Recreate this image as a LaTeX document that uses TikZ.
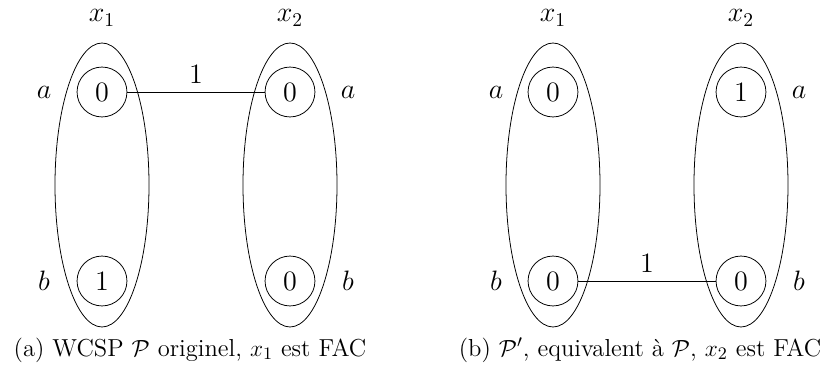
\documentclass[tikz,border=0pt]{standalone}
\usepackage{amsmath}

\begin{document}
\begin{tikzpicture}[
    x=0.513pt,
    y=0.513pt,
    every node/.style={font=\Large},
    val/.style={draw, circle, minimum size=25.6pt, inner sep=0pt},
    capt/.style={font=\fontsize{12.6}{15}\selectfont}
]

    \useasboundingbox (0,0) rectangle (827,370);

    % (a) WCSP original
    \draw (102,185) ellipse (47 and 142);
    \draw (290,185) ellipse (47 and 142);

    \node[inner sep=1pt] (ax1) at (102,352) {\(x_1\)};
    \node[inner sep=1pt] (ax2) at (290,352) {\(x_2\)};

    \node[val] (aa1) at (102,278) {0};
    \node[val] (ab1) at (102,89) {1};
    \node[val] (aa2) at (290,278) {0};
    \node[val] (ab2) at (290,89) {0};

    \node (la1) at (44,278) {\(a\)};
    \node (lb1) at (44,89) {\(b\)};
    \node (la2) at (348,278) {\(a\)};
    \node (lb2) at (348,89) {\(b\)};

    \draw (aa1) -- node[above=1pt] {1} (aa2);

    \node[capt] (capa) at (190,20) {(a) WCSP \(\mathcal{P}\) originel, \(x_1\) est FAC};

    % (b) P' equivalent
    \draw (553,185) ellipse (47 and 142);
    \draw (741,185) ellipse (47 and 142);

    \node[inner sep=1pt] (bx1) at (553,352) {\(x_1\)};
    \node[inner sep=1pt] (bx2) at (741,352) {\(x_2\)};

    \node[val] (ba1) at (553,278) {0};
    \node[val] (bb1) at (553,89) {0};
    \node[val] (ba2) at (741,278) {1};
    \node[val] (bb2) at (741,89) {0};

    \node (ma1) at (496,278) {\(a\)};
    \node (mb1) at (496,89) {\(b\)};
    \node (ma2) at (799,278) {\(a\)};
    \node (mb2) at (799,89) {\(b\)};

    \draw (bb1) -- node[above=1pt] {1} (bb2);

    \node[capt] (capb) at (640,20) {(b) \(\mathcal{P}'\), equivalent à \(\mathcal{P}\), \(x_2\) est FAC};

\end{tikzpicture}
\end{document}
